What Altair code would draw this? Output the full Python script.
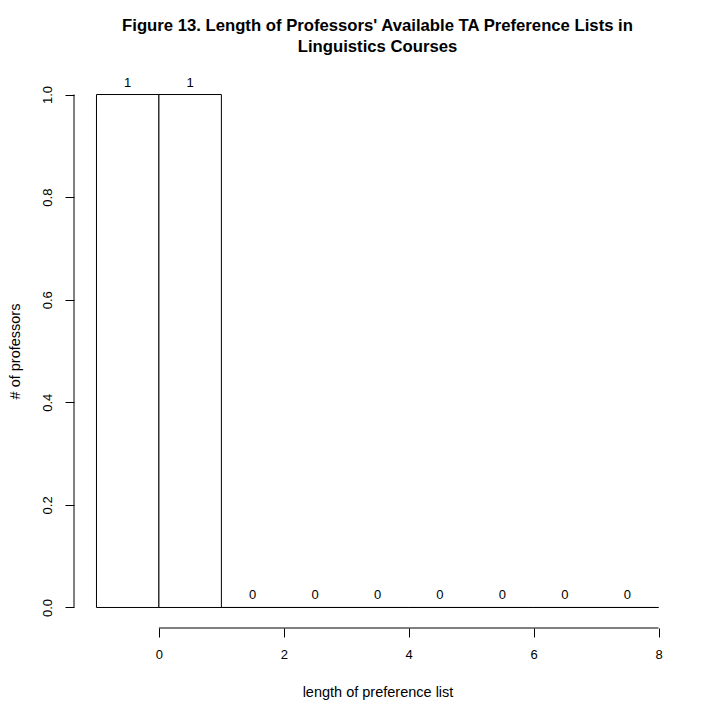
import altair as alt
import pandas as pd

# histogram bins (length of preference list) and counts
bin_start = [-1, 0, 1, 2, 3, 4, 5, 6, 7]
bin_end = [0, 1, 2, 3, 4, 5, 6, 7, 8]
counts = [1, 1, 0, 0, 0, 0, 0, 0, 0]
x_ticks = [0, 2, 4, 6, 8]
y_ticks = [0.0, 0.2, 0.4, 0.6, 0.8, 1.0]

df = pd.DataFrame({"start": bin_start, "end": bin_end, "count": counts})
df["mid"] = (df["start"] + df["end"]) / 2

xdom = [-1.36, 8.36]
ydom = [-0.04, 1.04]
FONT = "Liberation Sans"

xs = alt.Scale(domain=xdom, nice=False, zero=False)
ys = alt.Scale(domain=ydom, nice=False, zero=False)

bars = alt.Chart(df).mark_rect(fill="white", stroke="black", strokeWidth=1).encode(
    x=alt.X("start:Q", scale=xs,
            axis=alt.Axis(values=x_ticks, domain=False, grid=False, tickSize=9, tickColor="black",
                          labelFont=FONT, labelFontSize=13, labelColor="black", labelPadding=11,
                          title="length of preference list", titleFont=FONT, titleFontSize=14.5,
                          titleFontWeight="normal", titleColor="black", titlePadding=24,
                          format="d")),
    x2="end:Q",
    y=alt.Y("count:Q", scale=ys,
            axis=alt.Axis(values=y_ticks, domain=False, grid=False, tickSize=9, tickColor="black",
                          labelFont=FONT, labelFontSize=13, labelColor="black", labelPadding=11,
                          labelAngle=-90, labelAlign="center", labelBaseline="bottom",
                          format=".1f",
                          title="# of professors", titleFont=FONT, titleFontSize=14.5,
                          titleFontWeight="normal", titleColor="black", titlePadding=19)),
    y2=alt.datum(0),
)

labels = alt.Chart(df).mark_text(font=FONT, fontSize=13, color="black", baseline="bottom", dy=-5).encode(
    x=alt.X("mid:Q", scale=xs),
    y=alt.Y("count:Q", scale=ys),
    text=alt.Text("count:Q", format="d"),
)

xaxis_df = pd.DataFrame({"a": [min(x_ticks)], "b": [max(x_ticks)], "y": [ydom[0]]})
xaxis_line = alt.Chart(xaxis_df).mark_rule(color="black", strokeWidth=1).encode(
    x=alt.X("a:Q", scale=xs), x2="b:Q", y=alt.Y("y:Q", scale=ys)
)
yaxis_df = pd.DataFrame({"a": [min(y_ticks)], "b": [max(y_ticks)], "x": [xdom[0]]})
yaxis_line = alt.Chart(yaxis_df).mark_rule(color="black", strokeWidth=1).encode(
    y=alt.Y("a:Q", scale=ys), y2="b:Q", x=alt.X("x:Q", scale=xs)
)

chart = alt.layer(bars, labels, xaxis_line, yaxis_line).properties(
    width=607,
    height=554,
    padding={"left": 66, "top": 66, "right": 31, "bottom": 84},
    autosize=alt.AutoSizeParams(type="none"),
    background="white",
    title=alt.TitleParams(
        text=["Figure 13. Length of Professors' Available TA Preference Lists in",
              "Linguistics Courses"],
        font=FONT, fontSize=16.7, fontWeight="bold", color="black",
        anchor="middle", offset=18, lineHeight=21,
    ),
).configure_view(strokeWidth=0, stroke="transparent")

chart.save("out.html", embed_options={"renderer": "svg", "actions": False})
